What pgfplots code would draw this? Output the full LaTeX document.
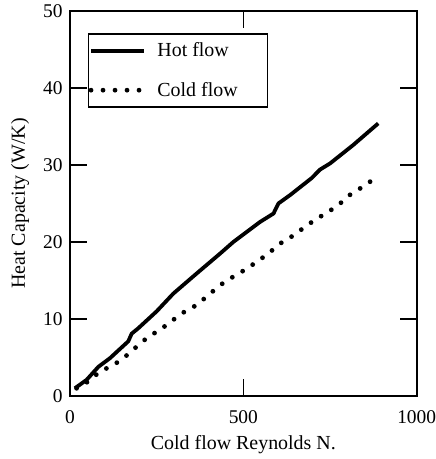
\documentclass[border=0pt]{standalone}
\usepackage{fontspec}
\setmainfont{Liberation Serif}
\usepackage{pgfplots}
\pgfplotsset{compat=1.18}
\begin{document}
\begin{tikzpicture}
\begin{axis}[
    scale only axis,
    width=346.7bp, height=385bp,
    xmin=0, xmax=1000, ymin=0, ymax=50,
    xtick={0,500,1000}, ytick={0,10,20,30,40,50},
    tick align=inside,
    major tick length=17bp,
    axis line style={line width=2bp},
    tick style={line width=1.3bp, black},
    tick label style={font=\fontsize{19.5}{21}\selectfont},
    label style={font=\fontsize{20}{22}\selectfont},
    /pgf/number format/assume math mode=true,
    /pgf/number format/1000 sep={},
    xticklabel style={yshift=-11bp},
    yticklabel style={xshift=-4bp},
    xlabel={Cold flow Reynolds N.},
    ylabel={Heat Capacity (W/K)},
    xlabel style={yshift=-5bp},
    ylabel style={yshift=7bp},
    legend style={at={(axis cs:52,47.1)}, anchor=north west,
        draw=black, line width=1.2bp, inner xsep=0bp, inner ysep=7bp,
        row sep=20bp, font=\fontsize{20}{22}\selectfont},
    legend cell align=left,
    legend image code/.code={\draw[#1] (0bp,0bp) -- (53bp,0bp); \path (62bp,0bp);},
]
\addplot[black, line width=3.8bp, line join=round] coordinates {
(14,1.0) (48,2.1) (82,3.8) (115,4.9) (168,7.1) (178,8.1) (197,8.8)
(250,11.0) (298,13.3) (365,15.9) (433,18.5) (471,20.0) (548,22.6)
(587,23.7) (601,25.0) (635,26.1) (697,28.3) (721,29.4) (750,30.2)
(817,32.6) (889,35.4)
};
\addlegendentry{\makebox[108bp][l]{Hot flow}}
\addplot[black, line width=4.8bp, line cap=round, dash pattern=on 0bp off 12bp] coordinates {
(19,1.0) (53,1.9) (87,3.2) (125,4.0) (159,5.1) (192,6.4) (226,7.7)
(260,8.6) (298,9.9) (332,11.0) (365,11.8) (399,13.1) (433,14.4)
(471,15.5) (505,16.4) (538,17.4) (572,18.5) (606,19.8) (639,20.7)
(673,21.8) (707,22.9) (745,23.9) (779,25.0) (812,26.3) (846,27.2)
(880,28.3)
};
\addlegendentry{\makebox[108bp][l]{Cold flow}}
\end{axis}
\pgfresetboundingbox
\path ([shift={(-70bp,-63bp)}]current axis.south west) rectangle ([shift={(18.3bp,11bp)}]current axis.north east);
\end{tikzpicture}
\end{document}
